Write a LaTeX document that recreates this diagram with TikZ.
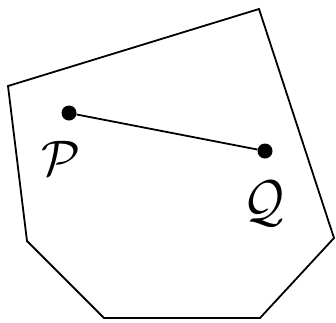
\documentclass[tikz,border=0pt]{standalone}
\begin{document}
\begin{tikzpicture}[x=1pt,y=-1pt,
  edge/.style={line width=1.8pt,black},
  dot/.style={circle,fill=black,inner sep=0pt,minimum size=15pt},
  lbl/.style={scale=5,inner sep=0pt}]
\useasboundingbox (0,0) rectangle (336,322);
\coordinate (v1) at (8,86);
\coordinate (v2) at (259,9);
\coordinate (v3) at (334,238);
\coordinate (v4) at (260,318);
\coordinate (v5) at (104,318);
\coordinate (v6) at (27,241);
\draw[edge,line join=miter] (v1) -- (v2) -- (v3) -- (v4) -- (v5) -- (v6) -- cycle;
\node[dot] (p) at (69,113) {};
\node[dot] (q) at (265,151) {};
\draw[edge] (p) -- (q);
\node[lbl] (pl) at (61,158) {$\mathcal{P}$};
\node[lbl,yscale=1.15] (ql) at (264,204) {$\mathcal{Q}$};
\end{tikzpicture}
\end{document}
